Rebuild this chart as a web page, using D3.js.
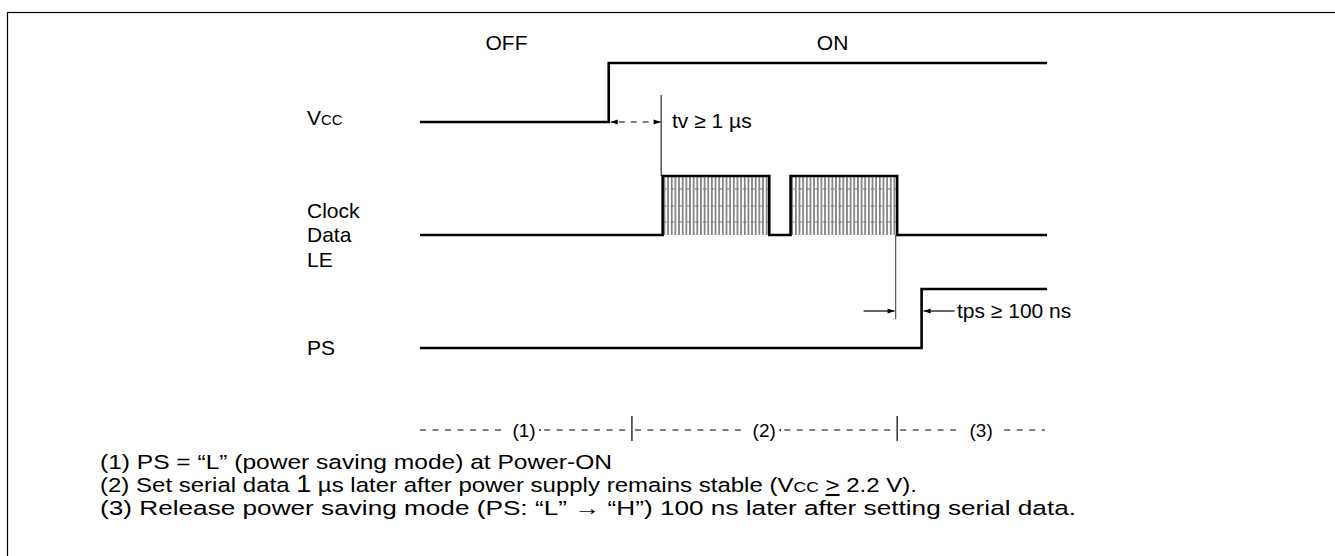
<!DOCTYPE html>
<html>
<head>
<meta charset="utf-8">
<script src="https://cdn.jsdelivr.net/npm/d3@7"></script>
<style>
  body { margin: 0; background: #fff; }
  svg { display: block; }
  text { font-family: "Liberation Sans", Arial, sans-serif; fill: #000; }
</style>
</head>
<body>
<svg id="chart" width="1335" height="556"></svg>
<script>
// signal rows (top to bottom) and their labels
var rows = ["Vcc", "Clock", "PS"];
var rowLabels = [["V", "CC"], ["Clock", "Data", "LE"], ["PS"]];
// time of each edge, in arbitrary units along the diagram
var vccRise = 30.1;
var clockBursts = [[38.7, 55.7], [59.1, 76.1]];
var psRise = 80.0;
var tEnd = 100;
// phase markers on the bottom line
var phaseTicks = [33.8, 76.1];
var phaseLabels = ["(1)", "(2)", "(3)"];
var phaseLabelAt = [16.6, 54.9, 89.5];
var states = [["OFF", 13.8], ["ON", 65.8]];
var notes = [
  "(1) PS = \u201cL\u201d (power saving mode)  at Power-ON",
  "(2) Set serial data 1 \u00b5s later after power supply remains stable (Vcc > 2.2 V).",
  "(3) Release power saving mode (PS: \u201cL\u201d \u2192 \u201cH\u201d) 100 ns later after setting serial data."
];
var noteWidths = [512, 817, 976];

var svg = d3.select("#chart");
var x = d3.scaleLinear().domain([0, tEnd]).range([420, 1047]);
var low = d3.scalePoint().domain(rows).range([122, 348]);
var amp = 59;

// frame
svg.append("rect").attr("x", 7.5).attr("y", 12.5).attr("width", 1400).attr("height", 600)
  .attr("fill", "none").attr("stroke", "#000").attr("stroke-width", 1.2);

var defs = svg.append("defs");
var pat = defs.append("pattern").attr("id", "hatch").attr("patternUnits", "userSpaceOnUse")
  .attr("width", 3.65).attr("height", 100).attr("x", x(clockBursts[0][0]));
pat.append("line").attr("x1", 1.8).attr("x2", 1.8).attr("y1", 0).attr("y2", 100)
  .attr("stroke", "#222").attr("stroke-width", 1);
function arrowMarker(id) {
  defs.append("marker").attr("id", id).attr("viewBox", "0 0 10 10").attr("refX", 10).attr("refY", 5)
    .attr("markerWidth", 9).attr("markerHeight", 7).attr("markerUnits", "userSpaceOnUse")
    .attr("orient", "auto-start-reverse")
    .append("path").attr("d", "M0,1.5 L10,5 L0,8.5 Z").attr("fill", "#000");
}
arrowMarker("arr");

// state labels
svg.selectAll(".state").data(states).enter().append("text")
  .attr("x", function(d) { return x(d[1]); }).attr("y", 50)
  .attr("text-anchor", "middle").attr("font-size", 21).text(function(d) { return d[0]; });

// waveforms
function wave(row, edges) {
  var y0 = low(row), y1 = y0 - amp;
  var pts = [[x(0), y0]];
  edges.forEach(function(e) {
    pts.push([x(e[0]), y0], [x(e[0]), y1], [x(e[1]), y1]);
    if (e[1] < tEnd) pts.push([x(e[1]), y0]);
  });
  if (edges[edges.length - 1][1] < tEnd) pts.push([x(tEnd), y0]);
  return pts;
}
var line = d3.line();

// hatch + data levels inside clock bursts
var cy = low("Clock");
clockBursts.forEach(function(b) {
  svg.append("rect").attr("x", x(b[0])).attr("y", cy - amp).attr("width", x(b[1]) - x(b[0]))
    .attr("height", amp).attr("fill", "url(#hatch)");
  [-46, -29, -13].forEach(function(dy) {
    svg.append("line").attr("x1", x(b[0])).attr("x2", x(b[1])).attr("y1", cy + dy).attr("y2", cy + dy)
      .attr("stroke", "#777").attr("stroke-width", 1).attr("stroke-dasharray", "4,4");
  });
});

var waves = [
  wave("Vcc", [[vccRise, tEnd]]),
  wave("Clock", clockBursts),
  wave("PS", [[psRise, tEnd]])
];
svg.selectAll(".wave").data(waves).enter().append("path")
  .attr("d", function(d) { return line(d); }).attr("fill", "none")
  .attr("stroke", "#000").attr("stroke-width", 2.6).attr("stroke-linejoin", "miter");

// row labels
rows.forEach(function(r, i) {
  var lab = rowLabels[i];
  if (r === "Vcc") {
    var t = svg.append("text").attr("x", 307).attr("y", low(r) + 3).attr("font-size", 21);
    t.append("tspan").text(lab[0]);
    t.append("tspan").attr("font-size", 15).text(lab[1]);
  } else {
    var n = lab.length;
    lab.forEach(function(s, j) {
      svg.append("text").attr("x", 307).attr("y", low(r) + 7 + (j - (n - 1) / 2) * 24.5)
        .attr("font-size", 21).text(s);
    });
  }
});

// tv annotation
var vy = low("Vcc");
svg.append("line").attr("x1", x(clockBursts[0][0]) - 1.5).attr("x2", x(clockBursts[0][0]) - 1.5)
  .attr("y1", vy - 27).attr("y2", cy - amp).attr("stroke", "#000").attr("stroke-width", 1);
svg.append("line").attr("x1", x(vccRise) + 2).attr("x2", x(clockBursts[0][0]) - 2)
  .attr("y1", vy).attr("y2", vy).attr("stroke", "#000").attr("stroke-width", 1.2)
  .attr("stroke-dasharray", "6,6").attr("stroke-dashoffset", -8)
  .attr("marker-start", "url(#arr)").attr("marker-end", "url(#arr)");
svg.append("text").attr("x", 672).attr("y", vy + 6).attr("font-size", 21).text("tv \u2265 1 \u00b5s");

// tps annotation
var py = low("PS");
var fallX = x(clockBursts[1][1]) - 1.5;
svg.append("line").attr("x1", fallX).attr("x2", fallX).attr("y1", cy).attr("y2", py - 29)
  .attr("stroke", "#555").attr("stroke-width", 1.2);
svg.append("line").attr("x1", fallX - 32).attr("x2", fallX - 1).attr("y1", py - 37).attr("y2", py - 37)
  .attr("stroke", "#000").attr("stroke-width", 1.2).attr("marker-end", "url(#arr)");
svg.append("line").attr("x1", x(psRise) + 33).attr("x2", x(psRise) + 2).attr("y1", py - 37).attr("y2", py - 37)
  .attr("stroke", "#000").attr("stroke-width", 1.2).attr("marker-end", "url(#arr)");
svg.append("text").attr("x", 957).attr("y", py - 30).attr("font-size", 21).text("tps \u2265 100 ns");

// phase line
var phy = 430;
var labW = 34;
var stops = [0].concat(phaseTicks, [tEnd]);
phaseLabels.forEach(function(l, i) {
  var a = x(stops[i]), b = x(stops[i + 1]), m = x(phaseLabelAt[i]);
  svg.append("text").attr("x", m).attr("y", phy + 7).attr("text-anchor", "middle")
    .attr("font-size", 19).text(l);
  var segs = [[a + (i ? 3 : 0), m - labW / 2 - 3], [m + labW / 2 + (i < 2 ? 3 : 6), b - 2]];
  segs.forEach(function(s) {
    svg.append("line").attr("x1", s[0]).attr("x2", s[1]).attr("y1", phy).attr("y2", phy)
      .attr("stroke", "#000").attr("stroke-width", 1.1).attr("stroke-dasharray", "6,6.5");
  });
  if (i < 2) {
    svg.append("circle").attr("cx", m + labW / 2 - 1).attr("cy", phy).attr("r", 0.9).attr("fill", "#000");
  }
});
phaseTicks.forEach(function(t) {
  svg.append("line").attr("x1", x(t)).attr("x2", x(t)).attr("y1", phy - 14).attr("y2", phy + 11)
    .attr("stroke", "#000").attr("stroke-width", 1.2);
});

// notes
notes.forEach(function(s, i) {
  var t = svg.append("text").attr("x", 100).attr("y", 469 + i * 23).attr("font-size", 20.5)
    .attr("textLength", noteWidths[i]).attr("lengthAdjust", "spacingAndGlyphs");
  if (i === 1) {
    var parts = s.split("Vcc > ");
    var p1 = parts[0].split("1 \u00b5s");
    t.append("tspan").text(p1[0]);
    t.append("tspan").attr("font-size", 23).text("1");
    t.append("tspan").text(" \u00b5s" + p1[1] + "V");
    t.append("tspan").attr("font-size", 15).text("CC");
    t.append("tspan").text(" ");
    t.append("tspan").attr("text-decoration", "underline").text(">");
    t.append("tspan").text(" " + parts[1]);
  } else {
    t.text(s);
  }
});
</script>
</body>
</html>
